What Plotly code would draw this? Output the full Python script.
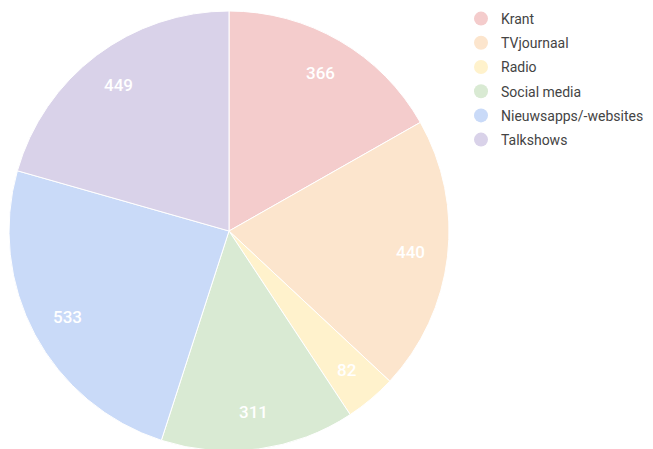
import math
import plotly.graph_objects as go

categories = ["Krant", "TVjournaal", "Radio", "Social media", "Nieuwsapps/-websites", "Talkshows"]
values = [366, 440, 82, 311, 533, 449]
colors = ["#f4cccc", "#fce5cd", "#fff2cc", "#d9ead3", "#c9daf8", "#d9d2e9"]

# page body has an 8px offset; figure coordinates below are relative to figure
W, H = 653, 449
ml, mt, mb = 1, 3, 6
pw, ph = W - ml, H - mt - mb
R = 220.0
cx_px, cy_px = ml + R, mt + R  # pie center in figure px

fig = go.Figure()
fig.add_trace(go.Pie(
    labels=categories, values=values, sort=False, direction="clockwise", rotation=0,
    marker=dict(colors=colors, line=dict(color="white", width=1)),
    textinfo="none",
    showlegend=False, hoverinfo="label+value+percent",
    domain=dict(x=[0, 2 * R / pw], y=[0, 1]),
))
for i, (c, col) in enumerate(zip(categories, colors)):
    fig.add_trace(go.Scatter(
        x=[None], y=[None], mode="markers", name=c, legendgroup=f"g{i}",
        marker=dict(symbol="circle", size=14, color=col),
    ))

# value labels at 0.83 of the radius, at each slice's mid-angle
total = sum(values)
cum = 0
annotations = []
for v in values:
    mid = (cum + v / 2) / total * 2 * math.pi
    cum += v
    x_px = cx_px + 0.83 * R * math.sin(mid)
    y_px = cy_px - 0.83 * R * math.cos(mid)
    annotations.append(dict(
        x=(x_px - ml) / pw, y=1 - (y_px - mt) / ph, xref="paper", yref="paper",
        text=str(v), showarrow=False, xanchor="center", yanchor="middle",
        font=dict(family="Roboto", size=17, color="white", weight=500),
    ))

fig.update_layout(
    width=W, height=H,
    margin=dict(l=ml, r=0, t=mt, b=mb, autoexpand=False),
    paper_bgcolor="white", plot_bgcolor="white",
    xaxis=dict(visible=False), yaxis=dict(visible=False),
    font=dict(family="Roboto", color="#444444"),
    annotations=annotations,
    legend=dict(
        x=(453 - ml) / pw, y=1 + (mt + 5) / ph, xanchor="left", yanchor="top",
        font=dict(size=14, color="#444444"), tracegroupgap=3, itemsizing="trace",
        bgcolor="rgba(0,0,0,0)",
    ),
)
fig.write_html("out.html")
